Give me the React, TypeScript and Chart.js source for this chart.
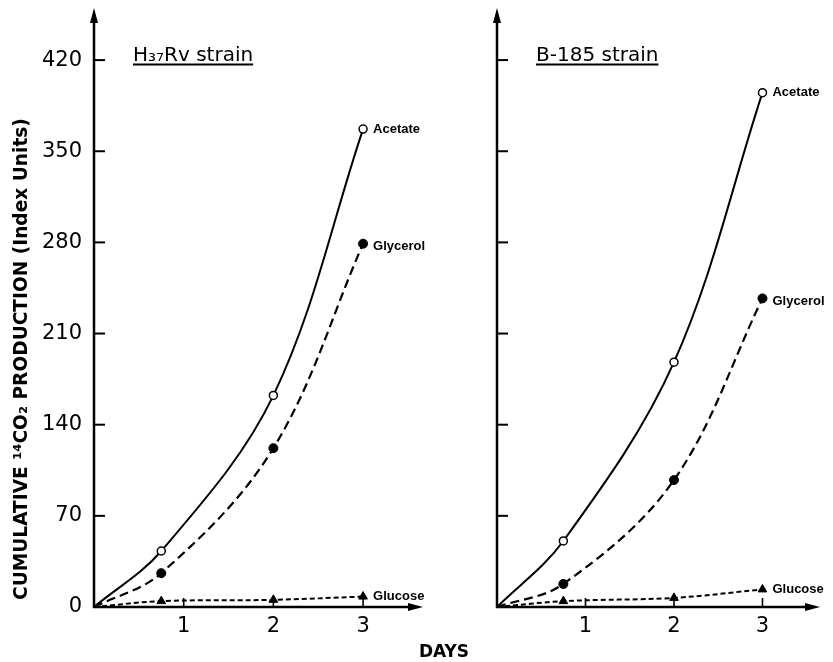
import React, { useEffect, useRef } from "react";
import { Chart, registerables } from "chart.js";

Chart.register(...registerables);

// ---------- data ----------
const days = [0, 0.75, 2, 3];
const yTickValues = [0, 70, 140, 210, 280, 350, 420];
const xTickValues = [1, 2, 3];

const h37AcetateValues = [0, 43, 162.5, 367];
const h37GlycerolValues = [0, 26, 122, 279];
const h37GlucoseValues = [0, 4.5, 5.5, 8];

const b185AcetateValues = [0, 50.7, 188, 395];
const b185GlycerolValues = [0, 17.7, 97.5, 237];
const b185GlucoseValues = [0, 4.5, 7, 13.5];

const seriesNames = ["Acetate", "Glycerol", "Glucose"];
const panelTitles = ["H₃₇Rv strain", "B-185 strain"];
const yAxisTitle = "CUMULATIVE ¹⁴CO₂ PRODUCTION (Index Units)";
const xAxisTitle = "DAYS";

// ---------- layout ----------
const W = 833;
const H = 662;
const AREA_TOP = 8;
const AREA_BOTTOM = 607;
const Y_MAX = 460;

type Panel = {
  areaLeft: number;
  areaRight: number;
  xMax: number;
  showYLabels: boolean;
  title: string;
  values: number[][];
  drawYTitle: boolean;
  drawXTitle: boolean;
};

const panels: Panel[] = [
  {
    areaLeft: 94,
    areaRight: 423,
    xMax: 3.668,
    showYLabels: true,
    title: panelTitles[0],
    values: [h37AcetateValues, h37GlycerolValues, h37GlucoseValues],
    drawYTitle: true,
    drawXTitle: false,
  },
  {
    areaLeft: 497,
    areaRight: 820,
    xMax: 3.65,
    showYLabels: false,
    title: panelTitles[1],
    values: [b185AcetateValues, b185GlycerolValues, b185GlucoseValues],
    drawYTitle: false,
    drawXTitle: true,
  },
];

const FONT = '"DejaVu Sans", "Liberation Sans", sans-serif';
const LABEL_FONT = 'bold 13px "Liberation Sans Narrow", "Liberation Sans", sans-serif';

function makeDecorPlugin(panel: Panel) {
  return {
    id: "decor",
    beforeDatasetsDraw(chart: any) {
      const ctx = chart.ctx as CanvasRenderingContext2D;
      const area = chart.chartArea;
      const xs = chart.scales.x;
      const ys = chart.scales.y;
      const x0 = area.left;
      const y0 = ys.getPixelForValue(0);
      ctx.save();
      ctx.strokeStyle = "#000";
      ctx.fillStyle = "#000";
      ctx.lineWidth = 2.5;
      // y axis
      ctx.beginPath();
      ctx.moveTo(x0, y0 + 1);
      ctx.lineTo(x0, area.top + 10);
      ctx.stroke();
      ctx.beginPath();
      ctx.moveTo(x0, area.top);
      ctx.lineTo(x0 - 4, area.top + 15);
      ctx.lineTo(x0 + 4, area.top + 15);
      ctx.closePath();
      ctx.fill();
      // x axis
      ctx.beginPath();
      ctx.moveTo(x0 - 1, y0);
      ctx.lineTo(area.right - 10, y0);
      ctx.stroke();
      ctx.beginPath();
      ctx.moveTo(area.right, y0);
      ctx.lineTo(area.right - 15, y0 - 4);
      ctx.lineTo(area.right - 15, y0 + 4);
      ctx.closePath();
      ctx.fill();
      // y tick marks (inward)
      ctx.lineWidth = 2;
      for (const v of yTickValues) {
        if (v === 0) continue;
        const py = ys.getPixelForValue(v);
        ctx.beginPath();
        ctx.moveTo(x0, py);
        ctx.lineTo(x0 + 11, py);
        ctx.stroke();
      }
      // x tick marks (upward)
      ctx.lineWidth = 1.6;
      for (const v of xTickValues) {
        const px = xs.getPixelForValue(v);
        ctx.beginPath();
        ctx.moveTo(px, y0);
        ctx.lineTo(px, y0 - 9);
        ctx.stroke();
      }
      ctx.restore();
    },
    afterDraw(chart: any) {
      const ctx = chart.ctx as CanvasRenderingContext2D;
      const area = chart.chartArea;
      ctx.save();
      ctx.fillStyle = "#000";
      ctx.strokeStyle = "#000";
      // panel title, underlined
      ctx.font = `20px ${FONT}`;
      ctx.textAlign = "left";
      ctx.textBaseline = "alphabetic";
      const tx = area.left + 39;
      const ty = 61;
      ctx.fillText(panel.title, tx, ty);
      const tw = ctx.measureText(panel.title).width;
      ctx.lineWidth = 1.8;
      ctx.beginPath();
      ctx.moveTo(tx, ty + 3.5);
      ctx.lineTo(tx + tw, ty + 3.5);
      ctx.stroke();

      // series end labels
      ctx.font = LABEL_FONT;
      ctx.textBaseline = "middle";
      seriesNames.forEach((name, i) => {
        const meta = chart.getDatasetMeta(i);
        const pt = meta.data[meta.data.length - 1];
        if (!pt) return;
        ctx.fillText(name, pt.x + 10, pt.y + (i === 1 ? 3 : 0));
      });

      // y-axis title
      if (panel.drawYTitle) {
        ctx.save();
        ctx.font = `bold 20px ${FONT}`;
        const w = ctx.measureText(yAxisTitle).width;
        const size = (20 * 482) / w;
        ctx.font = `bold ${size.toFixed(2)}px ${FONT}`;
        ctx.translate(22, 600);
        ctx.rotate(-Math.PI / 2);
        ctx.textAlign = "left";
        ctx.textBaseline = "middle";
        ctx.fillText(yAxisTitle, 0, 0);
        ctx.restore();
      }
      // x-axis title
      if (panel.drawXTitle) {
        ctx.font = `bold 17px ${FONT}`;
        ctx.textAlign = "center";
        ctx.textBaseline = "middle";
        ctx.fillText(xAxisTitle, 444, 653);
      }
      ctx.restore();
    },
  };
}

function buildConfig(panel: Panel): any {
  const styles = [
    {
      borderWidth: 2,
      borderDash: [] as number[],
      pointStyle: "circle",
      radius: 4,
      bg: "#fff",
      pbw: 1.5,
    },
    {
      borderWidth: 2.2,
      borderDash: [9, 5],
      pointStyle: "circle",
      radius: 4.5,
      bg: "#000",
      pbw: 1,
    },
    {
      borderWidth: 2,
      borderDash: [5, 3],
      pointStyle: "triangle",
      radius: 5,
      bg: "#000",
      pbw: 1,
    },
  ];
  const datasets = panel.values.map((vals, i) => {
    const s = styles[i];
    return {
      label: seriesNames[i],
      data: days.map((d, k) => ({ x: d, y: vals[k] })),
      borderColor: "#000",
      borderWidth: s.borderWidth,
      borderDash: s.borderDash,
      pointStyle: s.pointStyle,
      pointRadius: (c: any) => (c.dataIndex === 0 ? 0 : s.radius),
      pointBackgroundColor: s.bg,
      pointBorderColor: "#000",
      pointBorderWidth: s.pbw,
      tension: 0.35,
      fill: false,
      clip: false,
    };
  });
  return {
    type: "line",
    data: { datasets },
    options: {
      animation: false,
      responsive: false,
      devicePixelRatio: 1,
      layout: {
        padding: {
          left: 0,
          top: AREA_TOP,
          right: W - panel.areaRight,
          bottom: 0,
        },
      },
      plugins: {
        legend: { display: false },
        tooltip: { enabled: false },
        title: { display: false },
      },
      scales: {
        x: {
          type: "linear",
          min: 0,
          max: panel.xMax,
          grid: { display: false, drawTicks: false },
          border: { display: false },
          afterBuildTicks: (scale: any) => {
            scale.ticks = xTickValues.map((v) => ({ value: v }));
          },
          afterFit: (scale: any) => {
            scale.height = H - AREA_BOTTOM;
            scale.paddingLeft = 0;
            scale.paddingRight = 0;
          },
          ticks: {
            color: "#000",
            font: { family: FONT, size: 21 },
            padding: 7,
            maxRotation: 0,
            autoSkip: false,
            callback: (v: any) => String(v),
          },
        },
        y: {
          type: "linear",
          min: 0,
          max: Y_MAX,
          grid: { display: false, drawTicks: false },
          border: { display: false },
          afterBuildTicks: (scale: any) => {
            scale.ticks = yTickValues.map((v) => ({ value: v }));
          },
          afterFit: (scale: any) => {
            scale.width = panel.areaLeft;
            scale.paddingTop = 0;
            scale.paddingBottom = 0;
          },
          ticks: {
            display: panel.showYLabels,
            color: "#000",
            font: { family: FONT, size: 21 },
            padding: 12,
            autoSkip: false,
            callback: (v: any) => String(v),
          },
        },
      },
    },
    plugins: [makeDecorPlugin(panel)],
  };
}

function PanelCanvas({ panel }: { panel: Panel }) {
  const ref = useRef<HTMLCanvasElement | null>(null);
  useEffect(() => {
    if (!ref.current) return;
    const chart = new Chart(ref.current, buildConfig(panel));
    return () => chart.destroy();
  }, [panel]);
  return (
    <canvas
      ref={ref}
      width={W}
      height={H}
      style={{ position: "absolute", left: 0, top: 0, width: W, height: H }}
    />
  );
}

export default function App() {
  return (
    <div
      style={{
        position: "fixed",
        left: 0,
        top: 0,
        width: W,
        height: H,
        background: "#fff",
        overflow: "hidden",
      }}
    >
      {panels.map((p, i) => (
        <PanelCanvas key={i} panel={p} />
      ))}
    </div>
  );
}
